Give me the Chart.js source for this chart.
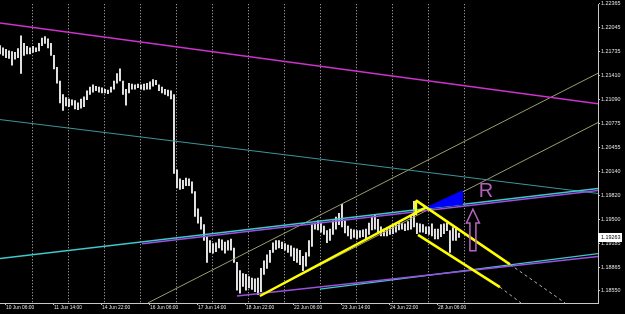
<!DOCTYPE html>
<html>
<head>
<meta charset="utf-8">
<script src="https://cdn.jsdelivr.net/npm/chart.js@4.4.1/dist/chart.umd.min.js"></script>
<style>
  html, body { margin: 0; padding: 0; background: #000; }
  canvas { display: block; }
</style>
</head>
<body>
<canvas id="chart" width="625" height="314"></canvas>
<script>
// H1 bars, bar 0 = 10 Jun 02:00, one sample every 2 bars
const candleHigh = [
  1.2181, 1.2178, 1.2176, 1.2174, 1.2173, 1.2172, 1.2177, 1.2194, 1.2184, 1.2180, 1.2178, 1.2180, 1.2178, 1.2184,
  1.2191, 1.2193, 1.2190, 1.2184, 1.2168, 1.2152, 1.2134, 1.2116, 1.2112, 1.2110, 1.2109, 1.2108, 1.2105, 1.2110,
  1.2113, 1.2121, 1.2126, 1.2129, 1.2127, 1.2126, 1.2125, 1.2123, 1.2122, 1.2126, 1.2134, 1.2144, 1.2150, 1.2134,
  1.2123, 1.2131, 1.2130, 1.2129, 1.2130, 1.2129, 1.2130, 1.2131, 1.2133, 1.2136, 1.2135, 1.2129, 1.2126, 1.2123,
  1.2122, 1.2121, 1.2116, 1.2016, 1.2004, 1.2002, 1.2005, 1.2004, 1.2000, 1.1987, 1.1964, 1.1953, 1.1943, 1.1927,
  1.1922, 1.1918, 1.1919, 1.1924, 1.1923, 1.1920, 1.1922, 1.1924, 1.1912, 1.1893, 1.1882, 1.1878, 1.1877, 1.1874,
  1.1872, 1.1871, 1.1872, 1.1885, 1.1895, 1.1903, 1.1909, 1.1919, 1.1922, 1.1922, 1.1920, 1.1918, 1.1916, 1.1915,
  1.1912, 1.1911, 1.1909, 1.1901, 1.1906, 1.1922, 1.1943, 1.1945, 1.1948, 1.1945, 1.1941, 1.1935, 1.1937, 1.1948,
  1.1953, 1.1958, 1.1970, 1.1948, 1.1941, 1.1937, 1.1936, 1.1935, 1.1935, 1.1936, 1.1937, 1.1945, 1.1953, 1.1956,
  1.1950, 1.1940, 1.1937, 1.1939, 1.1940, 1.1943, 1.1945, 1.1945, 1.1945, 1.1944, 1.1947, 1.1954, 1.1974, 1.1945,
  1.1944, 1.1943, 1.1940, 1.1940, 1.1944, 1.1937, 1.1937, 1.1943, 1.1944, 1.1945, 1.1935, 1.1939, 1.1937, 1.1932
]
const candleLow = [
  1.2170, 1.2168, 1.2165, 1.2164, 1.2155, 1.2163, 1.2165, 1.2144, 1.2168, 1.2170, 1.2170, 1.2172, 1.2173, 1.2174,
  1.2181, 1.2184, 1.2178, 1.2168, 1.2150, 1.2131, 1.2105, 1.2095, 1.2101, 1.2100, 1.2102, 1.2097, 1.2096, 1.2098,
  1.2100, 1.2109, 1.2116, 1.2119, 1.2121, 1.2119, 1.2118, 1.2118, 1.2117, 1.2119, 1.2123, 1.2131, 1.2134, 1.2116,
  1.2102, 1.2118, 1.2123, 1.2123, 1.2125, 1.2123, 1.2122, 1.2123, 1.2123, 1.2127, 1.2129, 1.2121, 1.2118, 1.2116,
  1.2114, 1.2110, 1.2011, 1.1992, 1.1990, 1.1991, 1.1995, 1.1995, 1.1985, 1.1954, 1.1945, 1.1937, 1.1922, 1.1893,
  1.1906, 1.1905, 1.1907, 1.1912, 1.1909, 1.1905, 1.1909, 1.1909, 1.1893, 1.1856, 1.1852, 1.1861, 1.1856, 1.1859,
  1.1857, 1.1854, 1.1850, 1.1854, 1.1877, 1.1885, 1.1893, 1.1906, 1.1910, 1.1912, 1.1911, 1.1909, 1.1906, 1.1901,
  1.1895, 1.1893, 1.1890, 1.1882, 1.1888, 1.1901, 1.1914, 1.1937, 1.1936, 1.1933, 1.1930, 1.1919, 1.1922, 1.1930,
  1.1937, 1.1943, 1.1940, 1.1932, 1.1928, 1.1924, 1.1926, 1.1924, 1.1926, 1.1927, 1.1924, 1.1930, 1.1936, 1.1937,
  1.1933, 1.1928, 1.1928, 1.1928, 1.1930, 1.1931, 1.1933, 1.1936, 1.1937, 1.1935, 1.1936, 1.1937, 1.1940, 1.1931,
  1.1933, 1.1933, 1.1931, 1.1930, 1.1928, 1.1924, 1.1924, 1.1927, 1.1931, 1.1935, 1.1906, 1.1922, 1.1922, 1.1926
]
const lastPrice = 1.19263

const timeLabels = ['10 Jun 06:00', '11 Jun 14:00', '14 Jun 22:00', '16 Jun 06:00', '17 Jun 14:00',
  '18 Jun 22:00', '22 Jun 06:00', '23 Jun 14:00', '24 Jun 22:00', '28 Jun 06:00']
const timeLabelBars = [4, 36, 68, 100, 132, 164, 196, 228, 260, 292]
const daySeparatorBars = [22, 46, 70, 94, 118, 142, 166, 190, 214, 238, 262, 286, 310]
const priceTicks = [1.22365, 1.22045, 1.21735, 1.21410, 1.21090, 1.20775, 1.20455, 1.20140,
  1.19820, 1.19500, 1.19185, 1.18865, 1.18550]

// drawn objects, [bar, price] end points
const magentaLine = [[0, 1.22111], [398.7, 1.21037]]
const tealLine = [[0, 1.20827], [398.7, 1.19845]]
const channelUpperCyan = [[0, 1.18980], [398.7, 1.19910]]
const channelUpperPurple = [[94.7, 1.19177], [398.7, 1.19884]]
const channelLowerPurple = [[158, 1.18482], [398.7, 1.19006]]
const channelLowerCyan = [[213.3, 1.18574], [398.7, 1.19046]]
const fanLineA = [[98.7, 1.18391], [398.7, 1.21443]]
const fanLineB = [[173.3, 1.18482], [398.7, 1.20788]]
const yellowRise = [[173.3, 1.18482], [284, 1.19661]]
const yellowPeak = [[277.3, 1.19753], [277.3, 1.19557]]
const yellowFallTop = [[277.3, 1.19753], [340, 1.18902]]
const yellowFallLow = [[278.7, 1.19295], [333.3, 1.18600]]
const rayFallTop = [[340, 1.18902], [376.7, 1.18391]]
const rayFallLow = [[333.3, 1.18600], [347.3, 1.18391]]
const triangleTop = [[283.3, 1.19648], [308.7, 1.19884]]
const triangleBottom = [[283.3, 1.19648], [308.7, 1.19701]]
const rLabelAt = [324, 1.19871]
const arrowAt = { bar: 315.3, top: 1.19635, neck: 1.19452, bottom: 1.19085 }

const pts = (line) => line.map(([x, y]) => ({ x, y }))
const line = (data, color, width, order, extra) => Object.assign({
  type: 'line',
  data: pts(data),
  borderColor: color,
  borderWidth: width,
  pointRadius: 0,
  tension: 0,
  fill: false,
  order
}, extra || {})

const candles = candleHigh.map((h, i) => ({ x: i * 2, y: [candleLow[i], h] }))

const markers = {
  id: 'markers',
  afterDatasetsDraw (chart) {
    const { ctx, scales: { x, y } } = chart
    ctx.save()
    ctx.fillStyle = '#b062b8'
    ctx.font = '20px "Liberation Sans"'
    ctx.textAlign = 'center'
    ctx.textBaseline = 'middle'
    ctx.fillText('R', x.getPixelForValue(rLabelAt[0]), y.getPixelForValue(rLabelAt[1]))

    const ax = x.getPixelForValue(arrowAt.bar)
    const top = y.getPixelForValue(arrowAt.top)
    const neck = y.getPixelForValue(arrowAt.neck)
    const bottom = y.getPixelForValue(arrowAt.bottom)
    ctx.beginPath()
    ctx.moveTo(ax, top)
    ctx.lineTo(ax + 6.5, neck)
    ctx.lineTo(ax + 3, neck)
    ctx.lineTo(ax + 3, bottom)
    ctx.lineTo(ax - 3, bottom)
    ctx.lineTo(ax - 3, neck)
    ctx.lineTo(ax - 6.5, neck)
    ctx.closePath()
    ctx.strokeStyle = '#b865c0'
    ctx.lineWidth = 1.5
    ctx.stroke()
    ctx.restore()
  },
  afterDraw (chart) {
    const { ctx, chartArea, scales: { y } } = chart
    const py = y.getPixelForValue(lastPrice)
    ctx.save()
    ctx.fillStyle = '#ffffff'
    ctx.fillRect(chartArea.right, Math.round(py) - 4, 24, 9)
    ctx.fillStyle = '#000000'
    ctx.font = '5.4px "Liberation Sans"'
    ctx.textBaseline = 'middle'
    ctx.fillText(lastPrice.toFixed(5), chartArea.right + 3, Math.round(py) + 0.5)
    ctx.restore()
  }
}

const axisColor = '#c8c8c8'

new Chart(document.getElementById('chart'), {
  type: 'bar',
  data: {
    datasets: [
      line(yellowPeak, '#ffff00', 2.5, 0),
      line(yellowFallTop, '#ffff00', 2.5, 0),
      line(yellowFallLow, '#ffff00', 2.5, 0),
      line(yellowRise, '#ffff00', 2.5, 0),
      line(triangleTop, '#0000ff', 1, 1, { fill: '+1', backgroundColor: '#0000ff' }),
      line(triangleBottom, '#0000ff', 1, 1),
      line(rayFallTop, '#b0b0b0', 1, 2, { borderDash: [3, 3] }),
      line(rayFallLow, '#b0b0b0', 1, 2, { borderDash: [3, 3] }),
      line(channelUpperPurple, '#9a50e0', 1.5, 2),
      line(channelLowerPurple, '#9a50e0', 1.5, 2),
      line(channelUpperCyan, '#40c8cc', 1.5, 3),
      line(channelLowerCyan, '#40c8cc', 1.2, 3),
      line(magentaLine, '#cc33cc', 1.5, 3),
      line(tealLine, '#3f9499', 1, 3),
      line(fanLineA, '#9c9c6c', 1, 4),
      line(fanLineB, '#9c9c6c', 1, 4),
      {
        type: 'bar',
        data: candles,
        backgroundColor: '#e4e4e4',
        borderWidth: 0,
        barThickness: 1.3,
        order: 10
      }
    ]
  },
  options: {
    responsive: false,
    animation: false,
    devicePixelRatio: 1,
    layout: { padding: 0 },
    plugins: { legend: { display: false }, tooltip: { enabled: false } },
    scales: {
      x: {
        type: 'linear',
        min: 0,
        max: 398.7,
        offset: false,
        afterBuildTicks: (scale) => { scale.ticks = timeLabelBars.map(v => ({ value: v })) },
        afterFit: (scale) => { scale.height = 11 },
        ticks: {
          align: 'start',
          autoSkip: false,
          maxRotation: 0,
          padding: 0,
          color: '#e0e0e0',
          font: { family: 'Liberation Sans', size: 4.9 },
          callback: (v) => timeLabels[timeLabelBars.indexOf(v)]
        },
        grid: { offset: false, drawOnChartArea: false, drawTicks: true, tickLength: 2, color: axisColor },
        border: { color: axisColor }
      },
      x2: {
        type: 'linear',
        position: 'bottom',
        min: 0,
        max: 398.7,
        offset: false,
        afterBuildTicks: (scale) => { scale.ticks = daySeparatorBars.map(v => ({ value: v })) },
        afterFit: (scale) => { scale.height = 0 },
        ticks: { display: false },
        grid: { offset: false, drawTicks: false, color: '#bdbdbd', lineWidth: 1 },
        border: { display: false, dash: [1, 2] }
      },
      y: {
        type: 'linear',
        position: 'right',
        min: 1.18389,
        max: 1.22360,
        afterBuildTicks: (scale) => { scale.ticks = priceTicks.map(v => ({ value: v })) },
        afterFit: (scale) => { scale.width = 27 },
        ticks: {
          padding: 1,
          color: '#e0e0e0',
          font: { family: 'Liberation Sans', size: 5.4 },
          callback: (v) => v.toFixed(5)
        },
        grid: { drawOnChartArea: false, drawTicks: true, tickLength: 2, color: axisColor },
        border: { color: axisColor }
      }
    }
  },
  plugins: [markers]
})
</script>
</body>
</html>
